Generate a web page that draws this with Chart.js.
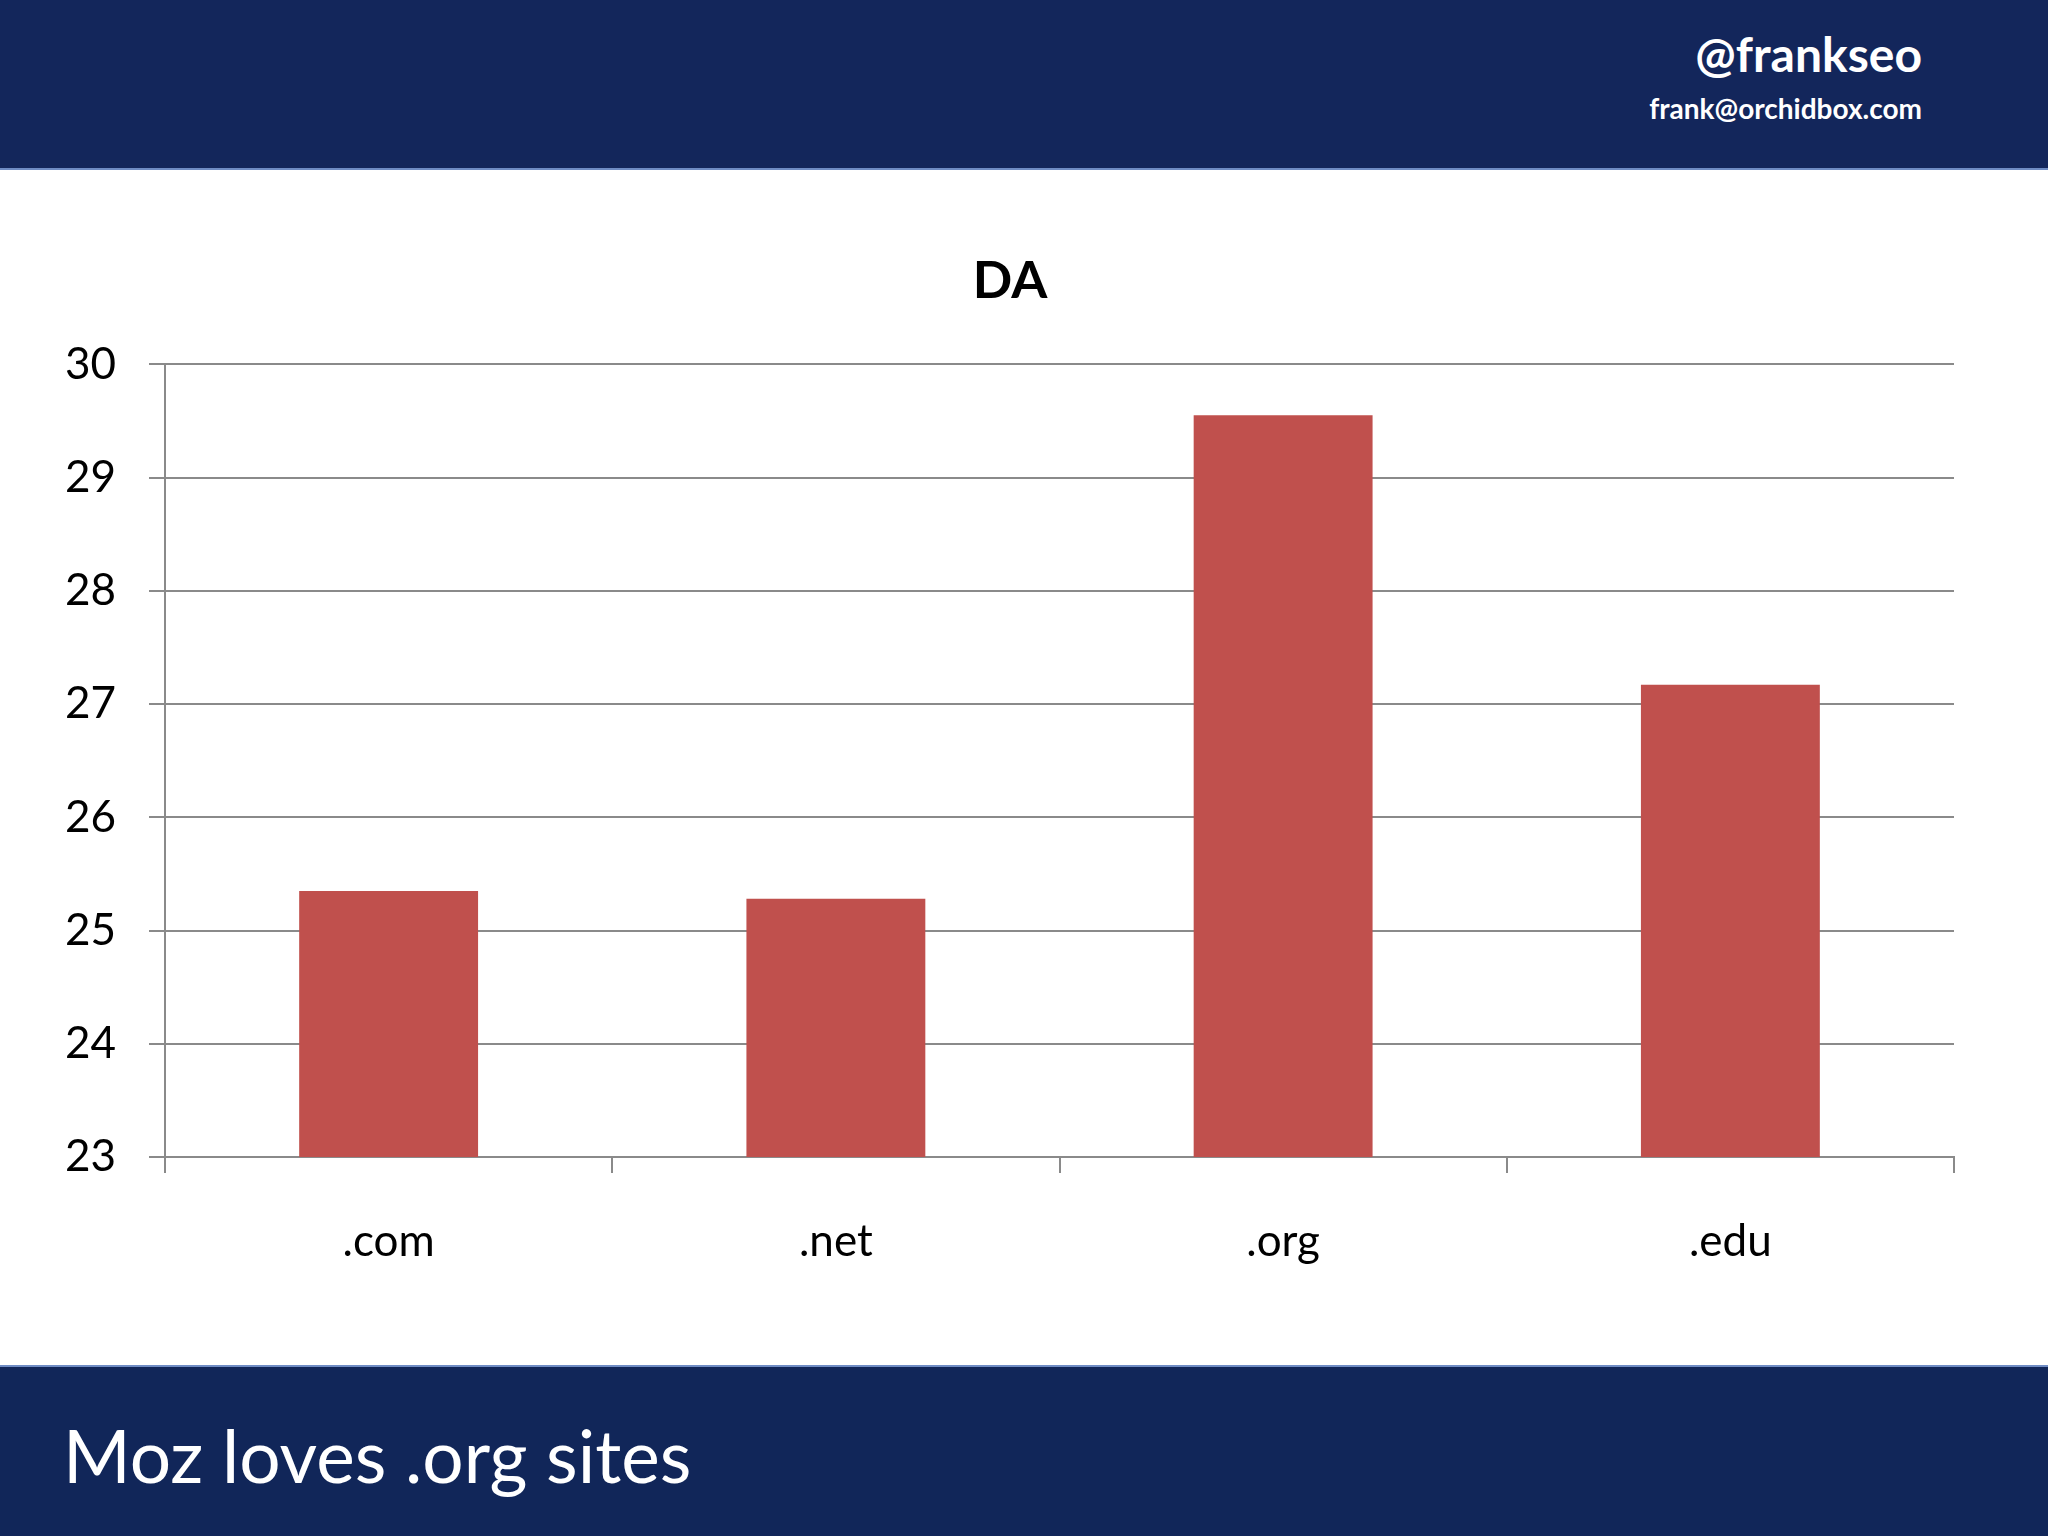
<!DOCTYPE html>
<html>
<head>
<meta charset="utf-8">
<script src="https://cdn.jsdelivr.net/npm/chart.js@4/dist/chart.umd.min.js"></script>
<style>
  html, body { margin: 0; padding: 0; background: #fff; }
  body { width: 2048px; height: 1536px; position: relative; overflow: hidden; font-family: Lato, "Open Sans", sans-serif; }
  .header { position: absolute; left: 0; top: 0; width: 2048px; height: 170px; background: #13265b; border-bottom: 2px solid #6f8cc4; box-sizing: border-box; }
  .handle { position: absolute; right: 126px; top: 30px; color: #fff; font-weight: bold; font-size: 48px; line-height: 1; }
  .mail { position: absolute; right: 126px; top: 94px; color: #fff; font-weight: bold; font-size: 28px; line-height: 1; }
  .footer { position: absolute; left: 0; top: 1365px; width: 2048px; height: 171px; background: #112659; border-top: 2px solid #6f8cc4; box-sizing: border-box; }
  .caption { position: absolute; left: 63px; top: 52px; color: #fff; font-size: 73px; line-height: 1; }
  .chart-box { position: absolute; left: 0; top: 170px; width: 2048px; height: 1195px; }
</style>
</head>
<body>
<div class="header">
  <div class="handle">@frankseo</div>
  <div class="mail">frank@orchidbox.com</div>
</div>
<div class="chart-box"><canvas id="da-chart" width="2048" height="1195"></canvas></div>
<div class="footer">
  <div class="caption">Moz loves .org sites</div>
</div>
<script>
const categories = ['.com', '.net', '.org', '.edu'];
const daValues = [25.35, 25.28, 29.55, 27.17];
const yTicks = [23, 24, 25, 26, 27, 28, 29, 30];

const gridGrey = '#8a8a8a';

const daChart = document.getElementById('da-chart');

new Chart(daChart, {
    type: 'bar',
    data: {
        labels: categories,
        datasets: [{
            label: 'DA',
            data: daValues,
            backgroundColor: '#c0504d',
            borderWidth: 0,
            categoryPercentage: 1,
            barPercentage: 0.4
        }]
    },
    options: {
        responsive: false,
        animation: false,
        devicePixelRatio: 1,
        layout: { padding: { top: 0, right: 28, bottom: 0, left: 0 } },
        plugins: {
            legend: { display: false },
            tooltip: { enabled: false },
            title: {
                display: true,
                text: 'DA',
                color: '#000',
                font: { family: 'Lato', size: 52, weight: 'bold', lineHeight: 1.2 },
                padding: { top: 80, bottom: 52 }
            }
        },
        scales: {
            x: {
                grid: {
                    display: true,
                    drawOnChartArea: false,
                    drawTicks: true,
                    tickLength: 16,
                    color: gridGrey,
                    lineWidth: 2
                },
                border: { display: true, color: gridGrey, width: 2 },
                ticks: {
                    color: '#000',
                    font: { family: 'Lato', size: 44 },
                    padding: 42
                },
                afterFit: (scale) => { scale.height = 208; }
            },
            y: {
                min: 23,
                max: 30,
                afterBuildTicks: (scale) => { scale.ticks = yTicks.map(v => ({ value: v })); },
                grid: {
                    color: gridGrey,
                    lineWidth: 2,
                    drawTicks: true,
                    tickLength: 16
                },
                border: { display: true, color: gridGrey, width: 2 },
                ticks: {
                    color: '#000',
                    font: { family: 'Lato', size: 44 },
                    padding: 33
                },
                afterFit: (scale) => { scale.width = 165; }
            },
            // empty right-hand axis, only keeps the plot edge at 1954px
            yRight: {
                position: 'right',
                min: 23,
                max: 30,
                grid: { display: false },
                border: { display: false },
                ticks: { display: false },
                afterFit: (scale) => { scale.width = 66; }
            }
        }
    }
});
</script>
</body>
</html>
